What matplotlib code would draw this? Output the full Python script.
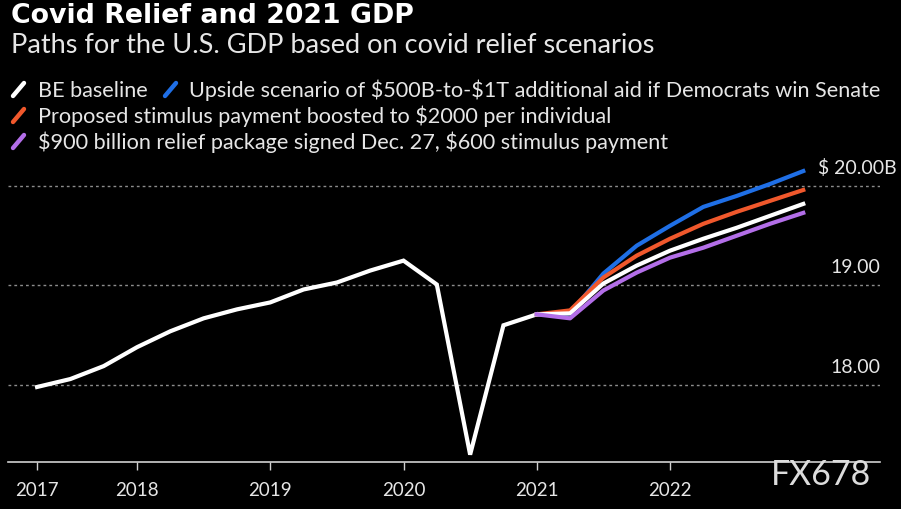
import matplotlib
matplotlib.use("Agg")
import matplotlib.pyplot as plt
from matplotlib.lines import Line2D

# ---------------- data ----------------
hist_x = [2017.25, 2017.5, 2017.75, 2018.0, 2018.25, 2018.5, 2018.75, 2019.0,
          2019.25, 2019.5, 2019.75, 2020.0, 2020.25, 2020.5, 2020.75, 2021.0]
hist_y = [17.98, 18.06, 18.19, 18.38, 18.54, 18.67, 18.76, 18.83,
          18.96, 19.03, 19.15, 19.25, 19.01, 17.30, 18.60, 18.71]

fc_x = [2021.0, 2021.25, 2021.5, 2021.75, 2022.0, 2022.25, 2022.5, 2022.75, 2023.0]
baseline_fc = [18.71, 18.72, 19.02, 19.20, 19.35, 19.47, 19.58, 19.70, 19.82]
upside_fc   = [18.71, 18.72, 19.12, 19.40, 19.60, 19.79, 19.90, 20.02, 20.15]
stimulus_fc = [18.71, 18.75, 19.08, 19.30, 19.47, 19.62, 19.74, 19.85, 19.96]
package_fc  = [18.71, 18.67, 18.95, 19.13, 19.28, 19.38, 19.50, 19.62, 19.73]

tick_pos = [2017.25, 2018, 2019, 2020, 2021, 2022]
tick_lab = ["2017", "2018", "2019", "2020", "2021", "2022"]
grid_vals = [18.0, 19.0, 20.0]
grid_labs = ["18.00", "19.00", "$ 20.00B"]

legend_labels = ["BE baseline",
                 "Upside scenario of $500B-to-$1T additional aid if Democrats win Senate",
                 "Proposed stimulus payment boosted to $2000 per individual",
                 "$900 billion relief package signed Dec. 27, $600 stimulus payment"]

WHITE = "#ffffff"
BLUE = "#1f6fe6"
ORANGE = "#f0582c"
PURPLE = "#b36ee8"
TXT = "#e6e6e6"

W, H = 901, 510
plt.rcParams['font.family'] = ['Lato', 'DejaVu Sans']
plt.rcParams['text.parse_math'] = False
fig = plt.figure(figsize=(W / 100, H / 100), dpi=100, facecolor="black")


def P(x, y):
    return (x / W, 1 - y / H)


renderer = fig.canvas.get_renderer()


def fit_text(x, y, s, target_w, base=14, **kw):
    t = fig.text(*P(x, y), s, fontsize=base, **kw)
    w = t.get_window_extent(renderer).width
    t.set_fontsize(base * target_w / w)
    return t


# axes
ax_l, ax_r, ax_b, ax_t = 8, 880, 463, 160
ax = fig.add_axes([ax_l / W, 1 - ax_b / H, (ax_r - ax_l) / W, (ax_b - ax_t) / H])
ax.set_facecolor("black")
px_per_year = 133.25
x0 = 2018 - (137 - ax_l) / px_per_year
x1 = 2018 + (ax_r - 137) / px_per_year
px_per_unit = 99.5
y1 = 20 + (187 - ax_t) / px_per_unit
y0 = 18 - (ax_b - 386) / px_per_unit
ax.set_xlim(x0, x1)
ax.set_ylim(y0, y1)

for v in grid_vals:
    ax.axhline(v, color="#8c8c8c", lw=1.0, ls=(0, (2, 2.2)), zorder=1)

lw = 3.0
ax.plot(hist_x, hist_y, color=WHITE, lw=lw, solid_joinstyle="miter", zorder=3)
ax.plot(fc_x, upside_fc, color=BLUE, lw=lw, zorder=3)
ax.plot(fc_x, stimulus_fc, color=ORANGE, lw=lw, zorder=4)
ax.plot(fc_x, baseline_fc, color=WHITE, lw=lw, zorder=5)
ax.plot(fc_x, package_fc, color=PURPLE, lw=lw, zorder=6)

for s in ["top", "right", "left"]:
    ax.spines[s].set_visible(False)
ax.spines["bottom"].set_color("#d0d0d0")
ax.spines["bottom"].set_linewidth(1.2)
ax.set_yticks([])
ax.set_xticks(tick_pos)
ax.set_xticklabels(tick_lab)
ax.tick_params(axis="x", colors="#d0d0d0", length=6, width=1, pad=8,
               labelsize=13.5, labelcolor=TXT)

ytr = ax.get_yaxis_transform()
for v, lab in zip(grid_vals, grid_labs):
    if lab.endswith("B"):
        ax.text(1.0 + 17 / (ax_r - ax_l), v + 13 / px_per_unit, lab, transform=ytr,
                ha="right", va="baseline", color=TXT, fontsize=14)
    else:
        ax.text(1.0, v + 13 / px_per_unit, lab, transform=ytr,
                ha="right", va="baseline", color=TXT, fontsize=14)

# titles
fit_text(11, 23, "Covid Relief and 2021 GDP", 404, base=18, color=WHITE,
         fontweight="bold", va="baseline", family="DejaVu Sans")
fit_text(11, 53, "Paths for the U.S. GDP based on covid relief scenarios", 647,
         base=16, color=TXT, va="baseline")

# legend
t1 = fit_text(189, 97, legend_labels[1], 696, base=14, color=TXT, va="baseline")
fs = t1.get_fontsize()
fig.text(*P(37.5, 97), legend_labels[0], fontsize=fs, color=TXT, va="baseline")
fig.text(*P(37.5, 123), legend_labels[2], fontsize=fs, color=TXT, va="baseline")
fig.text(*P(37.5, 149), legend_labels[3], fontsize=fs, color=TXT, va="baseline")


def marker(x, y, c):
    fig.add_artist(Line2D([x / W, (x + 11) / W], [1 - (y + 13) / H, 1 - y / H],
                          transform=fig.transFigure, color=c, lw=3.2,
                          solid_capstyle="round"))


marker(13, 84, WHITE)
marker(165, 84, BLUE)
marker(13, 110, ORANGE)
marker(13, 136, PURPLE)

# watermark
fit_text(771, 485, "FX678", 100, base=20, color="#dcdcdc", va="baseline")

fig.savefig("out.png", dpi=100, facecolor="black")
